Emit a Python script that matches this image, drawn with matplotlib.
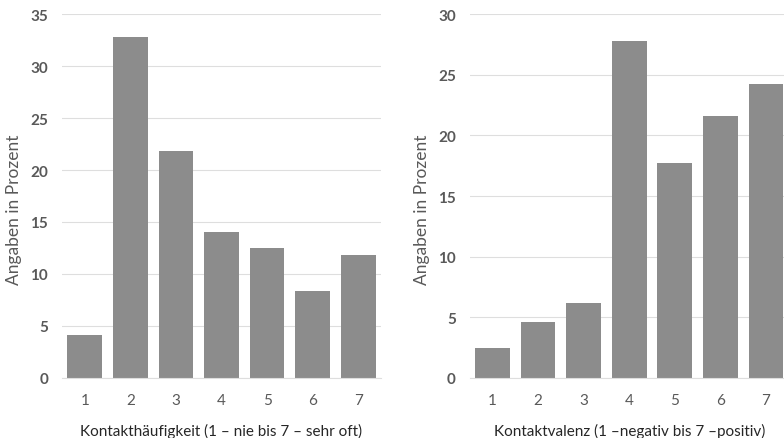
import matplotlib.pyplot as plt

plt.rcParams['font.family'] = ['Lato', 'DejaVu Sans']

categories = [1, 2, 3, 4, 5, 6, 7]
haeufigkeit = [4.1, 32.8, 21.8, 14.0, 12.5, 8.4, 11.8]
valenz = [2.5, 4.6, 6.2, 27.8, 17.7, 21.6, 24.2]

bar_color = '#8c8c8c'
grid_color = '#dedede'
text_color = '#595959'

fig = plt.figure(figsize=(7.84, 4.39), dpi=100)
ax1 = fig.add_axes([0.0791, 0.1367, 0.4069, 0.8291])
ax2 = fig.add_axes([0.5991, 0.1367, 0.4069, 0.8291])

panels = [
    (ax1, haeufigkeit, 35, "Kontakthäufigkeit (1 – nie bis 7 – sehr oft)", -0.125),
    (ax2, valenz, 30, "Kontaktvalenz (1 –negativ bis 7 –positiv)", -0.124),
]

for ax, vals, ymax, xlabel, ylab_x in panels:
    ax.bar(categories, vals, width=0.76, color=bar_color, zorder=2)
    ax.set_xlim(0.5, 7.5)
    ax.set_ylim(0, ymax)
    ax.set_yticks(range(0, ymax + 1, 5))
    ax.set_xticks(categories)
    ax.grid(axis='y', color=grid_color, linewidth=0.8, zorder=0)
    for s in ['top', 'right', 'left']:
        ax.spines[s].set_visible(False)
    ax.spines['bottom'].set_color(grid_color)
    ax.tick_params(axis='both', length=0)
    ax.tick_params(axis='y', pad=10, labelsize=11, labelcolor=text_color)
    ax.tick_params(axis='x', pad=11, labelsize=11, labelcolor=text_color)
    for t in ax.get_yticklabels():
        t.set_fontweight('bold')
    ax.set_xlabel(xlabel, fontsize=11, color='#262626', labelpad=11)
    ax.set_ylabel("Angaben in Prozent", fontsize=12.5, color=text_color)
    ax.yaxis.set_label_coords(ylab_x, 0.464)

plt.savefig('out.png', dpi=100, facecolor='white')
